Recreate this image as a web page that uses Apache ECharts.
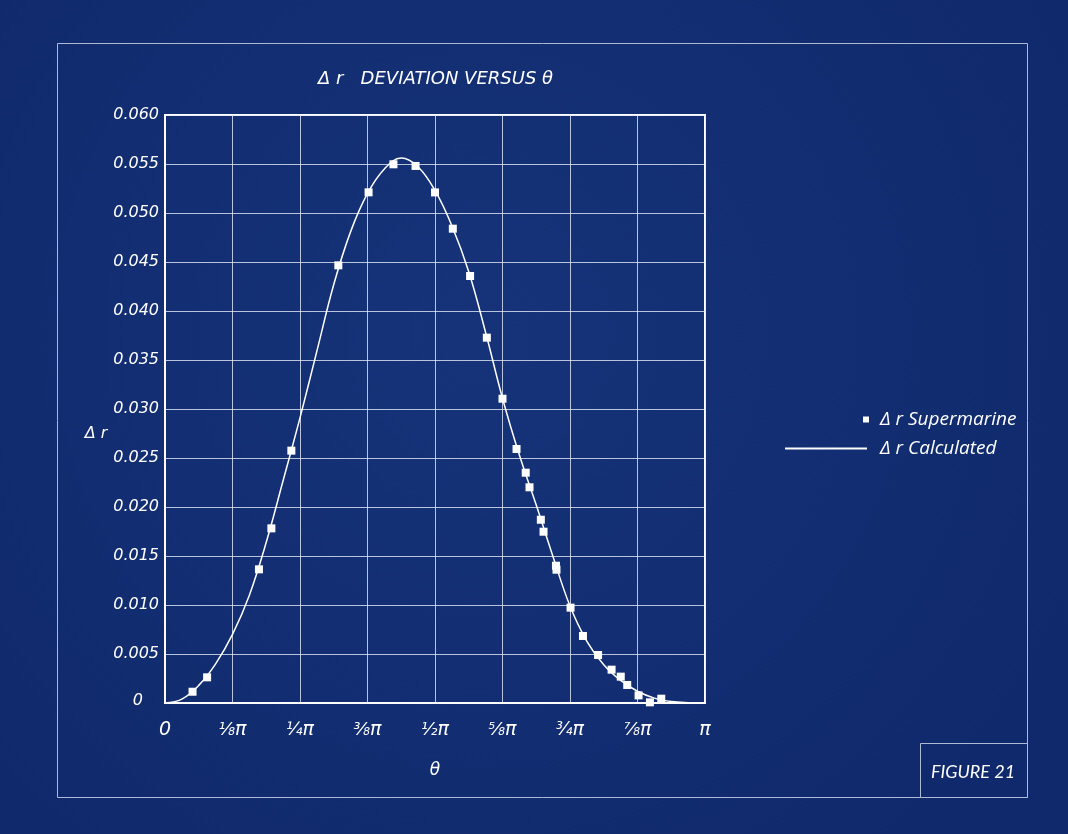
<!doctype html>
<html>
<head>
<meta charset="utf-8">
<title>Delta r deviation versus theta</title>
<style>
  html, body { margin: 0; padding: 0; background: #132e72; }
  #main { width: 1068px; height: 834px; }
</style>
</head>
<body>
<div id="main"></div>
<script src="https://cdn.jsdelivr.net/npm/echarts@6/dist/echarts.min.js"></script>
<script>

// theta expressed as a fraction of pi
var thetaSupermarine = [0.051, 0.078, 0.174, 0.197, 0.234, 0.321, 0.377, 0.423, 0.464, 0.500,
    0.533, 0.565, 0.596, 0.625, 0.651, 0.668, 0.675, 0.696, 0.701, 0.724, 0.725, 0.751,
    0.774, 0.802, 0.827, 0.844, 0.856, 0.877, 0.898, 0.919];
var deltaRSupermarine = [0.00115, 0.00262, 0.01364, 0.01782, 0.02575, 0.04466, 0.05211, 0.05497, 0.05480, 0.05210,
    0.04840, 0.04357, 0.03728, 0.03105, 0.02592, 0.02350, 0.02201, 0.01870, 0.01748, 0.01401, 0.01360, 0.00973,
    0.00684, 0.00490, 0.00340, 0.00269, 0.00184, 0.00078, 0.00007, 0.00044];

// calculated curve, read every pi/32
var thetaCalc = [0, 0.03125, 0.0625, 0.09375, 0.125, 0.15625, 0.1875, 0.21875, 0.25, 0.28125, 0.3125,
    0.34375, 0.375, 0.40625, 0.4375, 0.46875, 0.5, 0.53125, 0.5625, 0.59375, 0.625, 0.65625,
    0.6875, 0.71875, 0.75, 0.78125, 0.8125, 0.84375, 0.875, 0.90625, 0.9375, 0.96875, 1];
var deltaRCalc = [0, 0.0004, 0.0018, 0.0040, 0.0070, 0.0110, 0.0164, 0.0227, 0.0291, 0.0359, 0.0427,
    0.0481, 0.0520, 0.0545, 0.0556, 0.0547, 0.0523, 0.0487, 0.0440, 0.0378, 0.0311, 0.0253,
    0.0202, 0.0149, 0.0099, 0.0063, 0.0039, 0.0023, 0.0012, 0.0005, 0.00015, 0.00003, 0];

var xFractions = ['', '\u215B', '\u00BC', '\u215C', '\u00BD', '\u215D', '\u00BE', '\u215E', ''];

var techFont = '"DejaVu Sans", sans-serif';
var legendFont = '"Open Sans", sans-serif';

function zip(xs, ys) {
    return xs.map(function (x, i) { return [x, ys[i]]; });
}

var chart = echarts.init(document.getElementById('main'), null, { renderer: 'canvas' });

chart.setOption({
    backgroundColor: {
        type: 'radial', x: 0.45, y: 0.4, r: 0.8,
        colorStops: [{ offset: 0, color: '#163379' }, { offset: 1, color: '#10296c' }]
    },
    animation: false,
    title: {
        text: 'Δ r   DEVIATION VERSUS θ',
        left: 313,
        top: 65,
        textStyle: {
            color: '#fff', fontFamily: techFont, fontStyle: 'italic',
            fontWeight: 'normal', fontSize: 18
        }
    },
    graphic: [
        {
            type: 'rect', silent: true,
            shape: { x: 57.5, y: 43.5, width: 970, height: 754 },
            style: { fill: 'none', stroke: '#aebad4', lineWidth: 1 }
        },
        {
            type: 'rect', silent: true,
            shape: { x: 920.5, y: 743.5, width: 107, height: 54 },
            style: { fill: 'none', stroke: '#aebad4', lineWidth: 1 }
        },
        {
            type: 'text', silent: true,
            x: 973, y: 772,
            style: {
                text: 'FIGURE 21', fill: '#fff',
                font: 'italic 18px Lato, sans-serif',
                align: 'center', verticalAlign: 'middle'
            }
        },
        {
            type: 'text', silent: true,
            x: 96, y: 434,
            style: {
                text: 'Δ r', fill: '#fff',
                font: 'italic 16px ' + techFont,
                align: 'center', verticalAlign: 'middle'
            }
        }
    ],
    legend: [
        {
            data: ['Δ r Supermarine'],
            left: 863, top: 410, padding: 0,
            icon: 'rect', itemWidth: 6, itemHeight: 6,
            textStyle: { color: '#fff', fontFamily: legendFont, fontStyle: 'italic', fontSize: 19, padding: [0, 0, 0, 6] }
        },
        {
            data: ['Δ r Calculated'],
            left: 785, top: 439, padding: 0,
            icon: 'rect', itemWidth: 82, itemHeight: 2,
            textStyle: { color: '#fff', fontFamily: legendFont, fontStyle: 'italic', fontSize: 19, padding: [0, 0, 0, 8] }
        }
    ],
    grid: {
        left: 165, top: 115, right: 363, bottom: 131,
        show: true, borderColor: '#fff', borderWidth: 2,
        backgroundColor: 'transparent'
    },
    xAxis: {
        type: 'value',
        min: 0, max: 1, interval: 0.125,
        name: 'θ',
        nameLocation: 'middle',
        nameGap: 59,
        nameTextStyle: { color: '#fff', fontFamily: techFont, fontStyle: 'italic', fontSize: 17 },
        axisLine: { show: true, lineStyle: { color: '#fff', width: 2 } },
        axisTick: { show: false },
        axisLabel: {
            color: '#fff', margin: 18,
            formatter: function (v) {
                var k = Math.round(v * 8);
                if (k === 0) return '{p|0}';
                return (xFractions[k] ? '{f|' + xFractions[k] + '}' : '') + '{p|π}';
            },
            rich: {
                f: { color: '#fff', fontFamily: techFont, fontStyle: 'italic', fontSize: 17 },
                p: { color: '#fff', fontFamily: techFont, fontStyle: 'italic', fontSize: 19 }
            }
        },
        splitLine: { show: true, lineStyle: { color: 'rgba(228,234,246,0.8)', width: 1 } }
    },
    yAxis: {
        type: 'value',
        min: 0, max: 0.06, interval: 0.005,
        axisLine: { show: true, lineStyle: { color: '#fff', width: 2 } },
        axisTick: { show: false },
        axisLabel: {
            color: '#fff', fontFamily: techFont, fontStyle: 'italic', fontSize: 16, margin: 6,
            formatter: function (v) { return v === 0 ? '{z|0}' : v.toFixed(3); },
            rich: {
                z: { color: '#fff', fontFamily: techFont, fontStyle: 'italic', fontSize: 16, padding: [0, 16, 4, 0] }
            }
        },
        splitLine: { show: true, lineStyle: { color: 'rgba(228,234,246,0.8)', width: 1 } }
    },
    series: [
        {
            name: 'Δ r Supermarine',
            type: 'scatter',
            symbol: 'rect',
            symbolSize: 8,
            itemStyle: { color: '#fff', opacity: 1 },
            data: zip(thetaSupermarine, deltaRSupermarine),
            z: 3
        },
        {
            name: 'Δ r Calculated',
            type: 'line',
            smooth: 0.4,
            showSymbol: false,
            itemStyle: { color: '#fff' },
            lineStyle: { color: '#fff', width: 1.5 },
            data: zip(thetaCalc, deltaRCalc),
            z: 2
        }
    ]
});
</script>
</body>
</html>
